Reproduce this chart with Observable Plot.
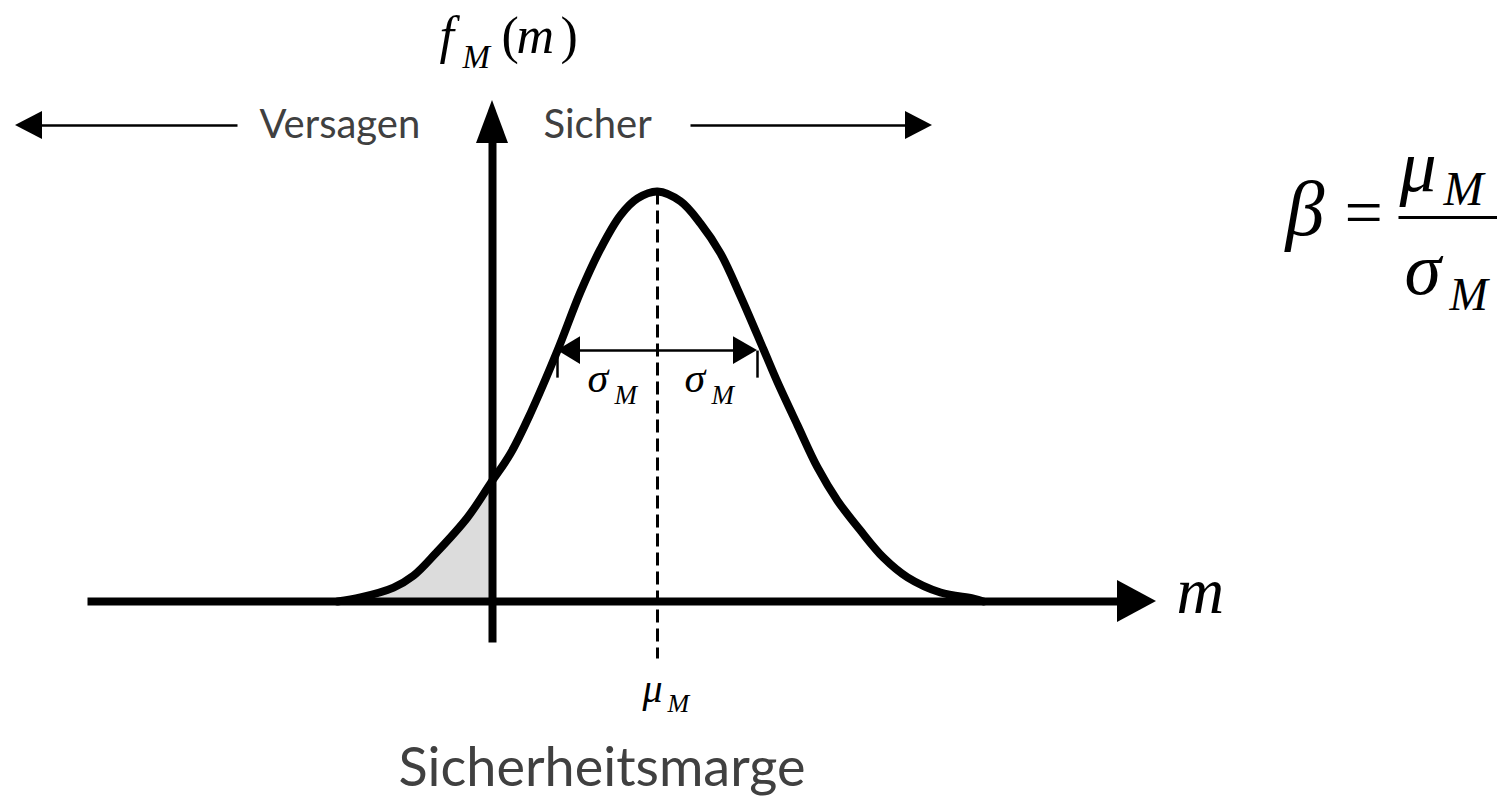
<!DOCTYPE html>
<html>
<head>
<meta charset="utf-8">
<script src="https://cdn.jsdelivr.net/npm/d3@7"></script>
<script src="https://cdn.jsdelivr.net/npm/@observablehq/plot@0.6"></script>
<style>
  html, body { margin: 0; padding: 0; background: #fff; overflow: hidden; }
  #chart svg { display: block; }
</style>
</head>
<body>
<div id="chart"></div>
<script>
// Density curve f_M(m) (m in units of sigma, axis origin at 0; density normalised to peak = 1)
const curveM = [-1.55, -1.32, -0.99, -0.79, -0.57, -0.25, -0.02, 0.18, 0.38, 0.65, 0.88, 1.08, 1.28, 1.45, 1.65, 1.88, 2.08, 2.28, 2.48, 2.71, 2.85, 3.05, 3.25, 3.45, 3.68, 3.91, 4.15, 4.48, 4.81, 4.91];
const curveF = [0, 0.01, 0.034, 0.063, 0.117, 0.205, 0.288, 0.361, 0.459, 0.612, 0.755, 0.86, 0.942, 0.983, 1.0, 0.976, 0.922, 0.849, 0.745, 0.615, 0.535, 0.43, 0.327, 0.246, 0.173, 0.107, 0.059, 0.022, 0.007, 0];

// Failure region (m < 0) shaded under the curve
const shadeM = [-1.55, -1.32, -0.99, -0.79, -0.57, -0.25, -0.02, 0];
const shadeF = [0, 0.01, 0.034, 0.063, 0.117, 0.205, 0.288, 0.295];

// Key parameters
const muM = 1.65;      // mean of M
const sigmaM = 1.0;    // standard deviation of M

// Annotation geometry (data units)
const axisSegs = [
  {x1: -4.05, y1: 0, x2: 6.30, y2: 0},
  {x1: 0, y1: -0.10, x2: 0, y2: 1.13}
];
const thinSegs = [
  {x1: -4.52, y1: 1.161, x2: -2.55, y2: 1.161},
  {x1: 1.98, y1: 1.161, x2: 4.15, y2: 1.161},
  {x1: muM - sigmaM + 0.2, y1: 0.612, x2: muM + sigmaM - 0.2, y2: 0.612},
  {x1: muM - sigmaM, y1: 0.612, x2: muM - sigmaM, y2: 0.546},
  {x1: muM + sigmaM, y1: 0.612, x2: muM + sigmaM, y2: 0.546}
];
const fractionBar = [{x1: 9.06, y1: 0.9366, x2: 10.1, y2: 0.9366}];
const muLine = [{x1: muM, y1: 1.0, x2: muM, y2: -0.139}];

// Arrow heads as triangles: each id has a base (lo..hi) and a tip (lo = hi)
const headsH = [
  {id: "m", x: 6.25, lo: -0.051, hi: 0.051}, {id: "m", x: 6.64, lo: 0, hi: 0},
  {id: "fail", x: -4.77, lo: 1.161, hi: 1.161}, {id: "fail", x: -4.50, lo: 1.127, hi: 1.195},
  {id: "safe", x: 4.13, lo: 1.127, hi: 1.195}, {id: "safe", x: 4.40, lo: 1.161, hi: 1.161},
  {id: "sL", x: muM - sigmaM, lo: 0.612, hi: 0.612}, {id: "sL", x: muM - sigmaM + 0.23, lo: 0.578, hi: 0.646},
  {id: "sR", x: muM + sigmaM - 0.24, lo: 0.578, hi: 0.646}, {id: "sR", x: muM + sigmaM, lo: 0.612, hi: 0.612}
];
const headsV = [
  {id: "f", y: 1.117, lo: -0.16, hi: 0.16}, {id: "f", y: 1.222, lo: 0, hi: 0}
];

// Texts
const mathItalic = [
  {t: "f", x: -0.53, y: 1.3366, s: 52},
  {t: "M", x: -0.30, y: 1.3024, s: 33},
  {t: "m", x: 0.24, y: 1.3366, s: 52},
  {t: "m", x: 6.84, y: -0.029, s: 66},
  {t: "σ", x: 0.95, y: 0.5098, s: 42}, {t: "M", x: 1.22, y: 0.4829, s: 27},
  {t: "σ", x: 1.92, y: 0.5098, s: 42}, {t: "M", x: 2.19, y: 0.4829, s: 27},
  {t: "μ", x: 1.50, y: -0.2463, s: 40}, {t: "M", x: 1.75, y: -0.2707, s: 26},
  {t: "β", x: 7.93, y: 0.8927, s: 78},
  {t: "μ", x: 9.07, y: 1.0024, s: 74}, {t: "M", x: 9.51, y: 0.9659, s: 48},
  {t: "σ", x: 9.12, y: 0.7512, s: 74}, {t: "M", x: 9.57, y: 0.7098, s: 46}
];
const mathUpright = [
  {t: "(", x: 0.09, y: 1.3366, s: 52},
  {t: ")", x: 0.68, y: 1.3366, s: 52},
  {t: "=", x: 8.52, y: 0.8927, s: 68}
];
const sansLabels = [
  {t: "Versagen", x: -2.33, y: 1.1317, s: 40},
  {t: "Sicher", x: 0.51, y: 1.1317, s: 40},
  {t: "Sicherheitsmarge", x: -0.94, y: -0.451, s: 54}
];

const curve = curveM.map((m, i) => ({m, f: curveF[i]}));
const shade = shadeM.map((m, i) => ({m, f: shadeF[i]}));

const chart = Plot.plot({
  width: 1497,
  height: 800,
  margin: 0,
  x: {domain: [-4.92, 10.05], axis: null},
  y: {domain: [-0.48537, 1.46585], axis: null},
  style: {background: "#fff"},
  marks: [
    Plot.areaY(shade, {x: "m", y: "f", fill: "#dcdcdc", curve: "linear"}),
    Plot.line(curve, {x: "m", y: "f", stroke: "#000", strokeWidth: 8, curve: "catmull-rom", strokeLinejoin: "round"}),
    Plot.link(muLine, {x1: "x1", y1: "y1", x2: "x2", y2: "y2", stroke: "#000", strokeWidth: 3, strokeDasharray: "13 6"}),
    Plot.link(axisSegs, {x1: "x1", y1: "y1", x2: "x2", y2: "y2", stroke: "#000", strokeWidth: 8}),
    Plot.link(thinSegs, {x1: "x1", y1: "y1", x2: "x2", y2: "y2", stroke: "#000", strokeWidth: 2.5}),
    Plot.link(fractionBar, {x1: "x1", y1: "y1", x2: "x2", y2: "y2", stroke: "#000", strokeWidth: 3}),
    Plot.areaY(headsH, {x: "x", y1: "lo", y2: "hi", z: "id", fill: "#000", curve: "linear"}),
    Plot.areaX(headsV, {y: "y", x1: "lo", x2: "hi", z: "id", fill: "#000", curve: "linear"}),
    Plot.text(mathItalic, {x: "x", y: "y", text: "t", fontSize: "s", textAnchor: "start", lineAnchor: "bottom",
      fontFamily: "Liberation Serif", fontStyle: "italic", fill: "#000"}),
    Plot.text(mathUpright, {x: "x", y: "y", text: "t", fontSize: "s", textAnchor: "start", lineAnchor: "bottom",
      fontFamily: "Liberation Serif", fill: "#000"}),
    Plot.text(sansLabels, {x: "x", y: "y", text: "t", fontSize: "s", textAnchor: "start", lineAnchor: "bottom",
      fontFamily: "Lato", fill: "#404040"})
  ]
});
document.getElementById("chart").appendChild(chart);
</script>
</body>
</html>
